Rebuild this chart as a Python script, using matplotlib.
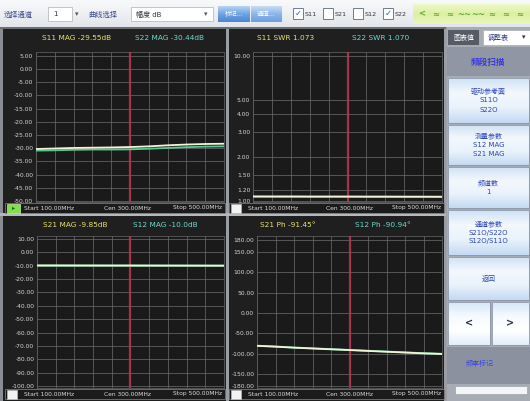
import numpy as np
import matplotlib
matplotlib.use("Agg")
import matplotlib.pyplot as plt
from matplotlib.patches import Rectangle

plt.rcParams['font.family'] = ['DejaVu Sans', 'Noto Sans CJK SC']

# ---------------- data ----------------
freq_mhz = [100, 140, 180, 220, 260, 300, 340, 380, 420, 460, 500]
marker_mhz = 300

s11_mag = [-30.3, -30.1, -29.9, -29.8, -29.7, -29.55, -29.3, -28.9, -28.6, -28.4, -28.3]
s22_mag = [-30.9, -30.8, -30.6, -30.5, -30.5, -30.44, -30.2, -29.9, -29.6, -29.4, -29.3]

s11_swr = [1.075, 1.074, 1.074, 1.073, 1.073, 1.073, 1.072, 1.072, 1.071, 1.071, 1.070]
s22_swr = [1.071, 1.071, 1.071, 1.070, 1.070, 1.070, 1.069, 1.069, 1.069, 1.068, 1.068]

s21_mag = [-9.80, -9.80, -9.82, -9.84, -9.85, -9.85, -9.87, -9.88, -9.90, -9.92, -9.94]
s12_mag = [-9.95, -9.96, -9.97, -9.98, -9.99, -10.0, -10.01, -10.02, -10.03, -10.04, -10.05]

s21_phase = [-81.0, -83.0, -85.5, -87.5, -89.5, -91.45, -93.5, -95.5, -97.5, -99.5, -101.0]
s12_phase = [-80.5, -82.5, -85.0, -87.0, -89.0, -90.94, -93.0, -95.0, -97.0, -99.0, -100.5]

ticks_tl = [5, 0, -5, -10, -15, -20, -25, -30, -35, -40, -45, -50]
ticks_tr = [1.0, 1.2, 1.5, 2.0, 3.0, 4.0, 5.0, 10.0]
ticks_bl = [10, 0, -10, -20, -30, -40, -50, -60, -70, -80, -90, -100]
ticks_br = [180, 150, 100, 50, 0, -50, -100, -150, -180]

headers = [
    ("S11 MAG -29.55dB", "S22 MAG -30.44dB"),
    ("S11 SWR 1.073", "S22 SWR 1.070"),
    ("S21 MAG -9.85dB", "S12 MAG -10.0dB"),
    ("S21 Ph -91.45°", "S12 Ph -90.94°"),
]
info_texts = ("Start 100.00MHz", "Cen 300.00MHz", "Stop 500.00MHz")

toolbar_labels = ["选择通道", "曲线选择"]
channel_value = "1"
format_value = "幅度 dB"
toolbar_buttons = ["标记...", "通道..."]
trace_checks = [("S11", True), ("S21", False), ("S12", False), ("S22", True)]

side_tab = "图表值"
side_dropdown = "调整表"
side_title = "频段扫描"
side_buttons = [
    ["驱动参考面", "S11O", "S22O"],
    ["测量参数", "S12 MAG", "S21 MAG"],
    ["频道数", "1"],
    ["通道参数", "S21O/S22O", "S12O/S11O"],
    ["返回"],
]
side_note = "频率标记"

# ---------------- figure ----------------
W, H = 530, 401
fig = plt.figure(figsize=(W / 100, H / 100), dpi=100)
fig.patch.set_facecolor('#1c1c1c')

bg = fig.add_axes([0, 0, 1, 1], zorder=0)
bg.set_xlim(0, W)
bg.set_ylim(H, 0)
bg.axis('off')


def rect(x0, y0, x1, y1, fc, ec='none', lw=0.6, z=1):
    bg.add_patch(Rectangle((x0, y0), x1 - x0, y1 - y0, facecolor=fc,
                           edgecolor=ec, linewidth=lw, zorder=z))


def gradient(x0, y0, x1, y1, colors, z=1):
    cols = np.array([matplotlib.colors.to_rgb(c) for c in colors])
    n = 64
    pos = np.linspace(0, 1, len(cols))
    t = np.linspace(0, 1, n)
    img = np.stack([np.interp(t, pos, cols[:, k]) for k in range(3)], axis=-1)
    img = img[:, None, :]
    bg.imshow(img, extent=(x0, x1, y1, y0), aspect='auto', zorder=z,
              interpolation='bilinear')


def txt(x, y, s, color='#ffffff', size=5, ha='left', va='center', weight='normal', z=5):
    bg.text(x, y, s, color=color, fontsize=size, ha=ha, va=va,
            fontweight=weight, zorder=z)


# ---- toolbar ----
gradient(0, 0, W, 27, ['#f8f9fb', '#eef0f4', '#e2e5ea'])
txt(4, 14, toolbar_labels[0], color='#3b4c8c', size=5.2)
rect(48, 7, 72, 21, '#ffffff', '#b8bcc4')
txt(53, 14, channel_value, color='#333333', size=5)
txt(77, 14, '▾', color='#555555', size=5, ha='center')
txt(88, 14, toolbar_labels[1], color='#3b4c8c', size=5.2)
rect(131, 7, 213, 21, '#ffffff', '#b8bcc4')
txt(136, 14, format_value, color='#333333', size=5)
txt(206, 14, '▾', color='#555555', size=5, ha='center')
gradient(218, 6, 250, 22, ['#b9d4f3', '#6fa3e3', '#4a86d6'])
gradient(251, 6, 282, 22, ['#c9dcf3', '#8db6e8', '#6c9fe0'])
txt(234, 14, toolbar_buttons[0], color='#ffffff', size=4.6, ha='center')
txt(266, 14, toolbar_buttons[1], color='#ffffff', size=4.6, ha='center')
for i, (name, on) in enumerate(trace_checks):
    cx = 293 + i * 30
    rect(cx, 8, cx + 10, 19, '#ffffff', '#6f7c90', lw=0.7)
    if on:
        txt(cx + 5, 13.5, '✓', color='#2f5fa8', size=6, ha='center')
    txt(cx + 12, 14, name, color='#333344', size=4.6)
gradient(413, 4, W, 24, ['#eef8c9', '#dcefa2', '#e9f6c0'])
for i, g in enumerate(['<', '≈', '≈', '~~', '~~', '≈', '≈', '≈']):
    txt(422 + i * 14, 14, g, color='#5fae2f', size=6, ha='center', weight='bold')

# ---- dark instrument area ----
rect(0, 27, 446, H, '#1f1f1f')
rect(0, 27, 3, H, '#8a8d92')
for xx in (226, 444):
    rect(xx, 27, xx + 2.5, H, '#9a9da2', z=3)
rect(0, 213, 446, 215.5, '#b5b8bc', z=3)
rect(0, 27, 446, 29, '#6a6d72', z=3)

panels = [
    dict(box=(36, 52, 224, 202), ylim=(-50.4, 6.5), ticks=ticks_tl, log=False,
         data=(s11_mag, s22_mag), hx=(42, 135), hy=38, info=(5, 225, 203, 213),
         icon_green=True),
    dict(box=(253, 52, 442, 202), ylim=(0.984, 10.66), ticks=ticks_tr, log=True,
         data=(s11_swr, s22_swr), hx=(257, 352), hy=38, info=(229, 444, 203, 213),
         icon_green=False),
    dict(box=(37, 236, 224, 388), ylim=(-101.5, 12.2), ticks=ticks_bl, log=False,
         data=(s21_mag, s12_mag), hx=(43, 133), hy=225, info=(5, 225, 389, 399),
         icon_green=False),
    dict(box=(257, 236, 442, 388), ylim=(-184.9, 189.9), ticks=ticks_br, log=False,
         data=(s21_phase, s12_phase), hx=(260, 355), hy=225, info=(229, 444, 389, 399),
         icon_green=False),
]

for p, (h1, h2) in zip(panels, headers):
    x0, y0, x1, y1 = p['box']
    ax = fig.add_axes([x0 / W, 1 - y1 / H, (x1 - x0) / W, (y1 - y0) / H], zorder=2)
    ax.set_facecolor('#1a1a1a')
    if p['log']:
        ax.set_yscale('log')
        ax.yaxis.set_minor_locator(matplotlib.ticker.NullLocator())
    ax.set_xlim(freq_mhz[0], freq_mhz[-1])
    ax.set_ylim(*p['ylim'])
    ax.set_yticks(p['ticks'])
    ax.set_yticklabels([f"{t:.2f}" for t in p['ticks']])
    ax.yaxis.set_minor_locator(matplotlib.ticker.NullLocator())
    ax.set_xticks(np.linspace(freq_mhz[0], freq_mhz[-1], 11))
    ax.tick_params(axis='x', length=0, labelbottom=False)
    ax.tick_params(axis='y', length=0, labelsize=4.3, labelcolor='#d6d6d6', pad=2)
    ax.grid(True, color='#6c6c6c', linewidth=0.6, alpha=0.85)
    for s in ax.spines.values():
        s.set_color('#5a5a5a')
        s.set_linewidth(0.6)
    ax.axvline(marker_mhz, color='#b8344a', linewidth=1.6, alpha=0.85, zorder=3)
    a, b = p['data']
    ax.plot(freq_mhz, b, color='#58c890', linewidth=1.3, zorder=4)
    ax.plot(freq_mhz, a, color='#f2f4d6', linewidth=1.3, zorder=5)

    txt(p['hx'][0], p['hy'], h1, color='#e8e070', size=5.3)
    txt(p['hx'][1], p['hy'], h2, color='#6fd8d0', size=5.3)

    ix0, ix1, iy0, iy1 = p['info']
    rect(ix0, iy0, ix1, iy1, '#1b1b1b', '#8a8a8a', lw=0.5, z=3)
    if p['icon_green']:
        rect(ix0 + 2, iy0 + 0.5, ix0 + 15, iy1 - 0.5, '#7ee04a', '#c8f0a0', lw=0.5, z=4)
        txt(ix0 + 8.5, (iy0 + iy1) / 2, '▸', color='#1f5f10', size=4.5, ha='center')
    else:
        rect(ix0 + 2, iy0 + 0.5, ix0 + 12, iy1 - 0.5, '#f2f2f2', '#bbbbbb', lw=0.5, z=4)
    mid = (iy0 + iy1) / 2
    width = ix1 - ix0
    txt(ix0 + 19, mid, info_texts[0], color='#dcdcdc', size=4.3)
    txt(ix0 + 0.45 * width, mid, info_texts[1], color='#dcdcdc', size=4.3)
    txt(ix1 - 3, mid, info_texts[2], color='#dcdcdc', size=4.3, ha='right')

# ---- side control panel ----
rect(446, 27, W, H, '#a7abb3')
rect(448, 30, 479, 45, '#565b66', z=2)
txt(463.5, 37.5, side_tab, color='#ffffff', size=5, ha='center')
rect(483, 30, W - 0.5, 45, '#ffffff', '#b0b4ba', z=2)
txt(488, 37.5, side_dropdown, color='#2c3c7c', size=5)
txt(524, 37.5, '▾', color='#333333', size=5, ha='center')
rect(447, 47, W, 76, '#9096a4', z=2)
txt(488.5, 62, side_title, color='#3a3ae0', size=6.2, ha='center', weight='bold')

btn_rows = [(78, 123), (125, 165), (167, 208), (210, 255), (257, 300)]
btn_colors = ['#cfe2f6', '#f4f8fd', '#e9f2fb', '#c3daf2']
for (ya, yb), lines in zip(btn_rows, side_buttons):
    gradient(448, ya, W - 1, yb, btn_colors, z=2)
    rect(448, ya, W - 1, yb, 'none', '#8c97a6', lw=0.6, z=3)
    n = len(lines)
    cy = (ya + yb) / 2
    step = 9
    for k, line in enumerate(lines):
        yy = cy + (k - (n - 1) / 2) * step
        txt(488.5, yy, line, color='#2b46b4', size=5, ha='center')

for (xa, xb), sym in zip([(448, 489.5), (491.5, W - 1)], ['<', '>']):
    gradient(xa, 302, xb, 345, ['#d6e7f8', '#f6fafe', '#ffffff', '#e3eefa'], z=2)
    rect(xa, 302, xb, 345, 'none', '#8c97a6', lw=0.6, z=3)
    txt((xa + xb) / 2, 323.5, sym, color='#2a3040', size=7, ha='center', weight='bold')

rect(447, 347, W, 384, '#8c91a0', z=2)
txt(480, 363, side_note, color='#3a4ad8', size=5, ha='center')
rect(455, 386, 527, 394, '#f4f5f7', '#9fa3aa', lw=0.5, z=2)

fig.savefig('out.png', dpi=100, facecolor=fig.get_facecolor())
